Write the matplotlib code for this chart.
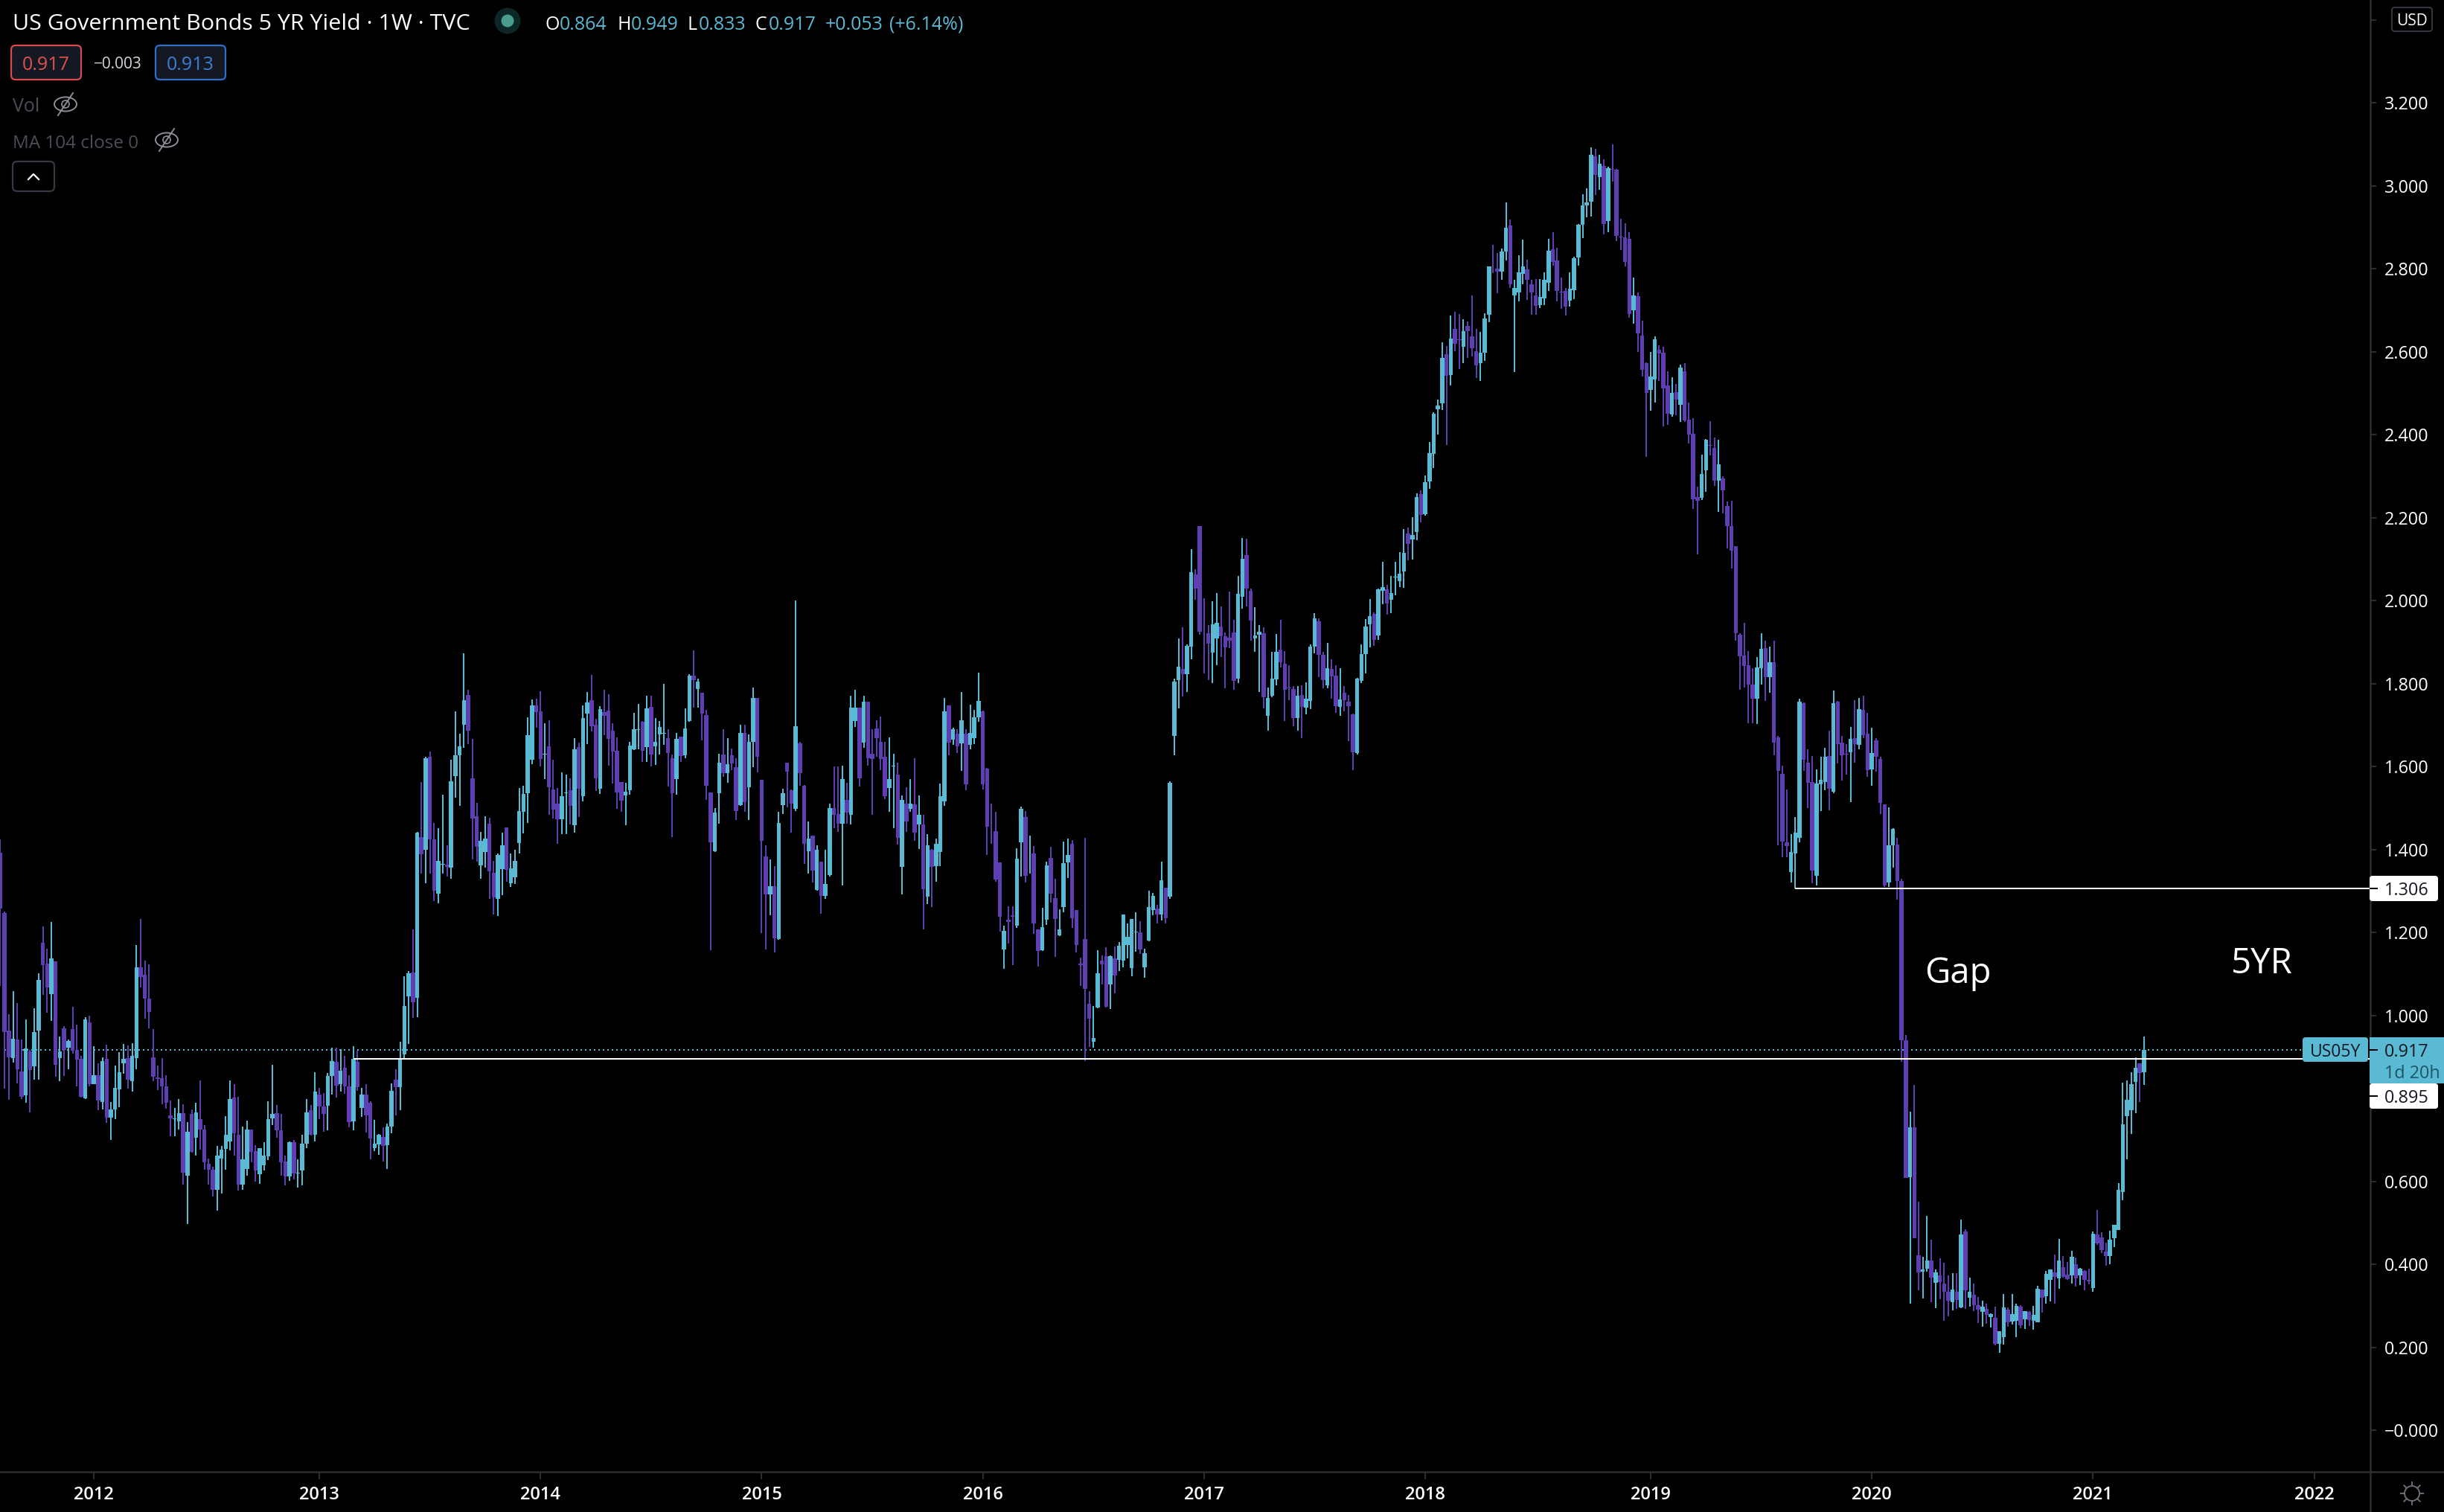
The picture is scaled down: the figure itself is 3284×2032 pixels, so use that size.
import numpy as np
import matplotlib
matplotlib.use('Agg')
import matplotlib.pyplot as plt
from matplotlib.patches import FancyBboxPatch, Circle, Ellipse

plt.rcParams['font.family'] = ['Open Sans', 'DejaVu Sans']

# weekly bars, (open, high, low, close)
bars_2011 = [
    (1.392, 1.425, 1.072, 1.257), (1.248, 1.251, 0.823, 0.961), (0.964, 1.003, 0.797, 0.900), (0.898, 1.059, 0.886, 0.944),
    (0.943, 1.030, 0.837, 0.870), (0.866, 0.943, 0.799, 0.805), (0.807, 0.991, 0.790, 0.921), (0.914, 0.918, 0.766, 0.868),
    (0.877, 1.018, 0.845, 0.960), (0.963, 1.101, 0.845, 1.086), (1.175, 1.214, 1.049, 1.122), (1.125, 1.161, 1.006, 1.067),
    (1.051, 1.226, 0.987, 1.138), (1.131, 1.131, 0.852, 0.882), (0.898, 0.950, 0.841, 0.914), (0.969, 0.975, 0.855, 0.917),
    (0.923, 0.943, 0.870, 0.939), (0.968, 1.022, 0.909, 0.916), (0.917, 0.978, 0.830, 0.894), (0.895, 0.902, 0.802, 0.805),
    (0.801, 0.996, 0.799, 0.990), (0.984, 1.000, 0.830, 0.835),
]
bars_2012 = [
    (0.834, 0.927, 0.834, 0.857), (0.857, 0.884, 0.771, 0.795), (0.791, 0.900, 0.774, 0.891), (0.895, 0.930, 0.742, 0.754),
    (0.754, 0.792, 0.701, 0.774), (0.774, 0.880, 0.750, 0.825), (0.822, 0.912, 0.779, 0.864), (0.884, 0.932, 0.859, 0.896),
    (0.898, 0.928, 0.823, 0.845), (0.841, 0.934, 0.817, 0.903), (0.898, 1.170, 0.871, 1.117), (1.117, 1.233, 1.067, 1.092),
    (1.099, 1.133, 0.992, 1.040), (1.041, 1.124, 0.970, 1.008), (0.900, 0.968, 0.841, 0.852), (0.851, 0.880, 0.820, 0.848),
    (0.849, 0.898, 0.786, 0.829), (0.830, 0.857, 0.775, 0.790), (0.759, 0.796, 0.709, 0.753), (0.750, 0.777, 0.709, 0.751),
    (0.745, 0.798, 0.725, 0.765), (0.765, 0.787, 0.592, 0.622), (0.614, 0.744, 0.497, 0.719), (0.763, 0.774, 0.670, 0.672),
    (0.705, 0.789, 0.662, 0.767), (0.751, 0.844, 0.676, 0.725), (0.726, 0.736, 0.629, 0.647), (0.642, 0.655, 0.592, 0.628),
    (0.629, 0.635, 0.564, 0.580), (0.580, 0.685, 0.530, 0.662), (0.655, 0.685, 0.571, 0.676), (0.678, 0.758, 0.628, 0.713),
    (0.696, 0.844, 0.675, 0.799), (0.803, 0.834, 0.662, 0.717), (0.713, 0.805, 0.578, 0.592), (0.593, 0.732, 0.580, 0.653),
    (0.631, 0.747, 0.614, 0.726), (0.726, 0.726, 0.647, 0.671), (0.673, 0.687, 0.600, 0.626), (0.617, 0.681, 0.595, 0.680),
    (0.640, 0.694, 0.626, 0.663), (0.660, 0.794, 0.651, 0.751), (0.752, 0.882, 0.736, 0.763), (0.765, 0.785, 0.706, 0.723),
    (0.724, 0.763, 0.614, 0.646), (0.649, 0.663, 0.590, 0.612), (0.612, 0.697, 0.601, 0.694), (0.695, 0.701, 0.605, 0.619),
    (0.620, 0.653, 0.585, 0.621), (0.626, 0.713, 0.590, 0.692), (0.692, 0.799, 0.681, 0.767), (0.771, 0.785, 0.711, 0.713),
]
bars_2013 = [
    (0.712, 0.864, 0.697, 0.817), (0.810, 0.825, 0.751, 0.780), (0.781, 0.814, 0.720, 0.763), (0.782, 0.861, 0.723, 0.855),
    (0.855, 0.923, 0.810, 0.891), (0.889, 0.923, 0.803, 0.831), (0.835, 0.919, 0.817, 0.867), (0.875, 0.903, 0.812, 0.830),
    (0.830, 0.857, 0.731, 0.744), (0.745, 0.927, 0.723, 0.896), (0.889, 0.915, 0.818, 0.828), (0.778, 0.825, 0.756, 0.810),
    (0.810, 0.835, 0.718, 0.760), (0.789, 0.793, 0.653, 0.703), (0.680, 0.749, 0.674, 0.692), (0.690, 0.715, 0.665, 0.713),
    (0.708, 0.731, 0.649, 0.685), (0.687, 0.740, 0.631, 0.733), (0.732, 0.837, 0.716, 0.819), (0.846, 0.871, 0.759, 0.828),
    (0.828, 0.936, 0.772, 0.896), (0.907, 1.095, 0.898, 1.023), (1.047, 1.108, 0.932, 1.101), (1.103, 1.208, 0.994, 1.032),
    (1.043, 1.442, 0.996, 1.440), (1.430, 1.563, 1.342, 1.389), (1.400, 1.623, 1.319, 1.620), (1.624, 1.636, 1.342, 1.425),
    (1.425, 1.464, 1.276, 1.301), (1.294, 1.452, 1.271, 1.373), (1.364, 1.532, 1.342, 1.365), (1.364, 1.410, 1.335, 1.358),
    (1.357, 1.617, 1.330, 1.565), (1.577, 1.733, 1.525, 1.627), (1.627, 1.679, 1.505, 1.649), (1.701, 1.873, 1.645, 1.760),
    (1.773, 1.785, 1.654, 1.687), (1.572, 1.667, 1.376, 1.475), (1.480, 1.513, 1.371, 1.407), (1.362, 1.443, 1.330, 1.421),
    (1.394, 1.480, 1.357, 1.427), (1.462, 1.477, 1.281, 1.348), (1.344, 1.373, 1.244, 1.285), (1.281, 1.391, 1.240, 1.387),
    (1.353, 1.441, 1.290, 1.410), (1.453, 1.453, 1.322, 1.351), (1.319, 1.391, 1.310, 1.355), (1.333, 1.400, 1.317, 1.373),
    (1.416, 1.548, 1.391, 1.493), (1.491, 1.554, 1.439, 1.534), (1.536, 1.719, 1.464, 1.676), (1.617, 1.762, 1.606, 1.748),
]
bars_2014 = [
    (1.748, 1.764, 1.694, 1.731), (1.733, 1.782, 1.600, 1.618), (1.630, 1.705, 1.570, 1.631), (1.649, 1.712, 1.484, 1.550),
    (1.545, 1.617, 1.475, 1.496), (1.511, 1.548, 1.414, 1.473), (1.473, 1.586, 1.437, 1.529), (1.536, 1.581, 1.437, 1.537),
    (1.543, 1.572, 1.461, 1.505), (1.459, 1.669, 1.441, 1.642), (1.647, 1.658, 1.479, 1.547), (1.529, 1.748, 1.516, 1.717),
    (1.728, 1.780, 1.654, 1.755), (1.760, 1.821, 1.685, 1.697), (1.701, 1.715, 1.541, 1.572), (1.547, 1.746, 1.534, 1.739),
    (1.731, 1.785, 1.676, 1.723), (1.735, 1.775, 1.602, 1.667), (1.687, 1.704, 1.559, 1.636), (1.638, 1.670, 1.498, 1.538),
    (1.563, 1.563, 1.491, 1.518), (1.531, 1.561, 1.459, 1.540), (1.543, 1.660, 1.532, 1.651), (1.642, 1.730, 1.640, 1.690),
    (1.689, 1.751, 1.642, 1.690), (1.708, 1.710, 1.611, 1.638), (1.647, 1.771, 1.611, 1.740), (1.744, 1.771, 1.600, 1.629),
    (1.649, 1.717, 1.604, 1.660), (1.678, 1.710, 1.629, 1.696), (1.680, 1.800, 1.653, 1.681), (1.669, 1.690, 1.552, 1.633),
    (1.620, 1.629, 1.430, 1.536), (1.570, 1.681, 1.532, 1.667), (1.672, 1.672, 1.611, 1.626), (1.627, 1.740, 1.620, 1.692),
    (1.710, 1.823, 1.708, 1.819), (1.819, 1.880, 1.742, 1.809), (1.787, 1.812, 1.742, 1.805), (1.778, 1.778, 1.663, 1.728),
    (1.724, 1.737, 1.520, 1.554), (1.538, 1.538, 1.157, 1.417), (1.396, 1.500, 1.394, 1.489), (1.536, 1.631, 1.462, 1.609),
    (1.629, 1.690, 1.575, 1.584), (1.584, 1.669, 1.561, 1.606), (1.627, 1.644, 1.592, 1.608), (1.599, 1.620, 1.471, 1.493),
    (1.507, 1.701, 1.505, 1.681), (1.681, 1.701, 1.491, 1.514), (1.550, 1.678, 1.471, 1.660), (1.660, 1.791, 1.599, 1.766),
]
bars_2015 = [
    (1.766, 1.766, 1.586, 1.624), (1.568, 1.568, 1.199, 1.421), (1.383, 1.410, 1.159, 1.292), (1.292, 1.376, 1.242, 1.312),
    (1.312, 1.360, 1.152, 1.186), (1.184, 1.491, 1.182, 1.464), (1.507, 1.547, 1.486, 1.536), (1.609, 1.609, 1.502, 1.588),
    (1.543, 1.545, 1.441, 1.511), (1.498, 2.000, 1.493, 1.697), (1.656, 1.660, 1.554, 1.584), (1.554, 1.556, 1.365, 1.414),
    (1.396, 1.468, 1.342, 1.426), (1.434, 1.434, 1.320, 1.349), (1.303, 1.410, 1.301, 1.399), (1.371, 1.371, 1.245, 1.288),
    (1.288, 1.399, 1.281, 1.317), (1.338, 1.511, 1.335, 1.500), (1.500, 1.600, 1.451, 1.484), (1.486, 1.600, 1.443, 1.462),
    (1.462, 1.602, 1.313, 1.570), (1.520, 1.561, 1.462, 1.489), (1.484, 1.771, 1.460, 1.742), (1.710, 1.785, 1.695, 1.742),
    (1.742, 1.742, 1.552, 1.572), (1.658, 1.771, 1.645, 1.756), (1.756, 1.756, 1.602, 1.620), (1.631, 1.690, 1.484, 1.618),
    (1.692, 1.712, 1.624, 1.669), (1.660, 1.721, 1.591, 1.618), (1.624, 1.660, 1.521, 1.529), (1.548, 1.670, 1.491, 1.570),
    (1.600, 1.631, 1.451, 1.601), (1.581, 1.609, 1.412, 1.428), (1.358, 1.530, 1.292, 1.520), (1.511, 1.550, 1.443, 1.468),
    (1.498, 1.570, 1.491, 1.511), (1.509, 1.620, 1.421, 1.441), (1.460, 1.530, 1.401, 1.484), (1.460, 1.484, 1.208, 1.304),
    (1.286, 1.437, 1.268, 1.410), (1.399, 1.401, 1.261, 1.358), (1.360, 1.426, 1.322, 1.414), (1.394, 1.559, 1.360, 1.529),
    (1.516, 1.765, 1.505, 1.733), (1.747, 1.747, 1.627, 1.658), (1.665, 1.694, 1.652, 1.690), (1.679, 1.690, 1.633, 1.649),
    (1.656, 1.780, 1.590, 1.712), (1.679, 1.690, 1.543, 1.557), (1.652, 1.749, 1.642, 1.681), (1.669, 1.737, 1.654, 1.719),
    (1.719, 1.826, 1.708, 1.758),
]
bars_2016 = [
    (1.733, 1.735, 1.545, 1.557), (1.595, 1.597, 1.387, 1.455), (1.484, 1.511, 1.414, 1.483), (1.444, 1.491, 1.322, 1.328),
    (1.369, 1.369, 1.203, 1.238), (1.159, 1.217, 1.113, 1.204), (1.231, 1.263, 1.174, 1.225), (1.242, 1.263, 1.122, 1.238),
    (1.217, 1.403, 1.211, 1.378), (1.417, 1.504, 1.335, 1.498), (1.478, 1.493, 1.320, 1.337), (1.381, 1.434, 1.342, 1.382),
    (1.390, 1.408, 1.197, 1.222), (1.208, 1.208, 1.118, 1.156), (1.158, 1.260, 1.156, 1.213), (1.231, 1.371, 1.218, 1.362),
    (1.380, 1.407, 1.272, 1.294), (1.283, 1.330, 1.141, 1.233), (1.193, 1.256, 1.191, 1.207), (1.261, 1.419, 1.249, 1.367),
    (1.369, 1.426, 1.331, 1.387), (1.414, 1.423, 1.211, 1.234), (1.254, 1.254, 1.152, 1.170), (1.125, 1.140, 1.071, 1.122),
    (1.184, 1.428, 0.890, 1.064), (1.028, 1.059, 0.924, 0.992), (0.937, 1.023, 0.922, 0.946), (1.019, 1.158, 1.018, 1.102),
    (1.132, 1.145, 1.075, 1.123), (1.143, 1.165, 1.019, 1.021), (1.075, 1.145, 1.016, 1.143), (1.138, 1.166, 1.053, 1.096),
    (1.134, 1.177, 1.107, 1.168), (1.132, 1.244, 1.116, 1.244), (1.170, 1.222, 1.138, 1.190), (1.114, 1.233, 1.095, 1.233),
    (1.200, 1.249, 1.154, 1.201), (1.201, 1.228, 1.149, 1.159), (1.116, 1.161, 1.091, 1.150), (1.181, 1.301, 1.179, 1.262),
    (1.254, 1.296, 1.242, 1.289), (1.258, 1.267, 1.222, 1.244), (1.244, 1.371, 1.229, 1.326), (1.308, 1.308, 1.222, 1.235),
    (1.287, 1.565, 1.281, 1.561), (1.674, 1.812, 1.627, 1.805), (1.808, 1.909, 1.740, 1.841), (1.835, 1.936, 1.769, 1.823),
    (1.823, 1.895, 1.780, 1.891), (1.889, 2.124, 1.859, 2.069), (2.063, 2.076, 2.002, 2.029), (2.180, 2.180, 1.918, 1.925),
]
bars_2017 = [
    (1.927, 2.006, 1.825, 1.926), (1.921, 1.941, 1.808, 1.896), (1.875, 1.999, 1.801, 1.943), (1.909, 2.018, 1.844, 1.947),
    (1.938, 1.986, 1.864, 1.914), (1.914, 1.923, 1.789, 1.887), (1.911, 2.022, 1.886, 1.903), (1.923, 1.954, 1.785, 1.807),
    (1.812, 2.060, 1.801, 2.016), (2.009, 2.151, 1.981, 2.101), (2.110, 2.149, 1.986, 2.029), (2.024, 2.029, 1.903, 1.952),
    (1.909, 1.984, 1.877, 1.916), (1.918, 1.941, 1.780, 1.925), (1.921, 1.936, 1.740, 1.767), (1.722, 1.790, 1.686, 1.765),
    (1.771, 1.877, 1.767, 1.812), (1.810, 1.920, 1.796, 1.877), (1.882, 1.954, 1.839, 1.851), (1.848, 1.878, 1.710, 1.785),
    (1.790, 1.844, 1.760, 1.788), (1.787, 1.794, 1.697, 1.717), (1.717, 1.794, 1.686, 1.771), (1.772, 1.796, 1.668, 1.744),
    (1.742, 1.803, 1.726, 1.763), (1.758, 1.895, 1.738, 1.889), (1.889, 1.970, 1.873, 1.957), (1.950, 1.957, 1.816, 1.869),
    (1.869, 1.877, 1.789, 1.808), (1.796, 1.898, 1.789, 1.837), (1.835, 1.859, 1.764, 1.817), (1.819, 1.844, 1.729, 1.746),
    (1.744, 1.837, 1.722, 1.762), (1.778, 1.794, 1.733, 1.760), (1.756, 1.772, 1.661, 1.746), (1.726, 1.728, 1.591, 1.634),
    (1.633, 1.814, 1.629, 1.812), (1.807, 1.895, 1.801, 1.871), (1.871, 1.955, 1.825, 1.938), (1.943, 2.004, 1.887, 1.963),
    (1.968, 1.972, 1.891, 1.905), (1.916, 2.029, 1.905, 2.027), (2.024, 2.094, 1.991, 2.033), (2.027, 2.038, 1.966, 1.993),
    (2.002, 2.060, 1.970, 2.018), (2.056, 2.094, 2.013, 2.057), (2.047, 2.117, 2.033, 2.065), (2.070, 2.173, 2.031, 2.115),
    (2.162, 2.176, 2.097, 2.137), (2.147, 2.201, 2.099, 2.158), (2.165, 2.259, 2.146, 2.250), (2.257, 2.266, 2.189, 2.207),
]
bars_2018 = [
    (2.208, 2.301, 2.205, 2.285), (2.287, 2.382, 2.269, 2.355), (2.353, 2.454, 2.319, 2.450), (2.461, 2.484, 2.400, 2.470),
    (2.475, 2.622, 2.459, 2.585), (2.594, 2.614, 2.375, 2.542), (2.544, 2.687, 2.518, 2.631), (2.655, 2.696, 2.601, 2.619),
    (2.630, 2.691, 2.558, 2.628), (2.612, 2.678, 2.572, 2.649), (2.662, 2.673, 2.585, 2.649), (2.637, 2.735, 2.588, 2.608),
    (2.601, 2.655, 2.536, 2.567), (2.572, 2.648, 2.529, 2.597), (2.597, 2.692, 2.578, 2.680), (2.689, 2.805, 2.671, 2.805),
    (2.804, 2.858, 2.789, 2.803), (2.800, 2.838, 2.741, 2.793), (2.793, 2.849, 2.773, 2.841), (2.841, 2.960, 2.820, 2.899),
    (2.904, 2.919, 2.753, 2.762), (2.736, 2.773, 2.551, 2.753), (2.743, 2.832, 2.721, 2.791), (2.788, 2.870, 2.762, 2.805),
    (2.798, 2.822, 2.725, 2.773), (2.762, 2.773, 2.689, 2.743), (2.736, 2.775, 2.689, 2.710), (2.712, 2.775, 2.705, 2.732),
    (2.728, 2.791, 2.712, 2.773), (2.766, 2.872, 2.746, 2.843), (2.847, 2.888, 2.807, 2.816), (2.820, 2.850, 2.721, 2.746),
    (2.745, 2.779, 2.703, 2.743), (2.746, 2.753, 2.687, 2.709), (2.723, 2.791, 2.709, 2.752), (2.748, 2.829, 2.727, 2.825),
    (2.827, 2.908, 2.807, 2.906), (2.906, 2.980, 2.874, 2.953), (2.953, 2.994, 2.924, 2.960), (2.962, 3.092, 2.926, 3.075),
    (3.071, 3.089, 2.978, 3.026), (3.021, 3.075, 2.990, 3.053), (3.048, 3.064, 2.883, 2.908), (2.915, 3.046, 2.888, 3.042),
    (3.041, 3.100, 3.010, 3.039), (3.039, 3.040, 2.866, 2.879), (2.878, 2.920, 2.845, 2.876), (2.875, 2.909, 2.805, 2.816),
    (2.872, 2.888, 2.682, 2.691), (2.700, 2.779, 2.667, 2.735), (2.734, 2.743, 2.599, 2.644), (2.639, 2.675, 2.540, 2.556),
    (2.572, 2.574, 2.346, 2.501),
]
bars_2019 = [
    (2.508, 2.599, 2.457, 2.540), (2.533, 2.637, 2.477, 2.630), (2.605, 2.615, 2.529, 2.596), (2.597, 2.612, 2.420, 2.511),
    (2.518, 2.553, 2.424, 2.451), (2.449, 2.539, 2.443, 2.501), (2.503, 2.522, 2.447, 2.485), (2.472, 2.568, 2.431, 2.562),
    (2.553, 2.573, 2.431, 2.435), (2.437, 2.478, 2.379, 2.400), (2.402, 2.440, 2.221, 2.245), (2.250, 2.274, 2.112, 2.240),
    (2.248, 2.352, 2.243, 2.306), (2.315, 2.390, 2.262, 2.387), (2.375, 2.433, 2.350, 2.373), (2.368, 2.393, 2.277, 2.289),
    (2.289, 2.388, 2.213, 2.329), (2.294, 2.300, 2.210, 2.266), (2.229, 2.238, 2.125, 2.180), (2.180, 2.241, 2.078, 2.121),
    (2.132, 2.132, 1.903, 1.922), (1.917, 1.922, 1.786, 1.866), (1.868, 1.947, 1.791, 1.843), (1.845, 1.879, 1.705, 1.797),
    (1.798, 1.837, 1.705, 1.764), (1.764, 1.864, 1.703, 1.839), (1.838, 1.922, 1.798, 1.884), (1.886, 1.904, 1.758, 1.816),
    (1.816, 1.889, 1.778, 1.852), (1.852, 1.904, 1.628, 1.657), (1.671, 1.674, 1.411, 1.590), (1.583, 1.603, 1.382, 1.420),
    (1.418, 1.545, 1.381, 1.408), (1.346, 1.438, 1.321, 1.395), (1.391, 1.479, 1.307, 1.441), (1.429, 1.763, 1.417, 1.757),
    (1.753, 1.755, 1.590, 1.616), (1.610, 1.642, 1.500, 1.561), (1.563, 1.626, 1.318, 1.350), (1.337, 1.594, 1.314, 1.559),
    (1.558, 1.624, 1.493, 1.569), (1.563, 1.646, 1.543, 1.623), (1.626, 1.687, 1.495, 1.547), (1.540, 1.784, 1.536, 1.753),
    (1.757, 1.758, 1.608, 1.655), (1.658, 1.674, 1.566, 1.628), (1.631, 1.655, 1.581, 1.630), (1.635, 1.696, 1.514, 1.667),
    (1.669, 1.760, 1.610, 1.655), (1.653, 1.766, 1.641, 1.739), (1.737, 1.771, 1.669, 1.676), (1.680, 1.730, 1.576, 1.592),
]
bars_2020 = [
    (1.594, 1.694, 1.554, 1.632), (1.664, 1.669, 1.588, 1.623), (1.619, 1.624, 1.486, 1.513), (1.509, 1.509, 1.309, 1.314),
    (1.321, 1.502, 1.309, 1.411), (1.410, 1.452, 1.357, 1.449), (1.413, 1.429, 1.279, 1.324), (1.325, 1.330, 0.889, 0.940),
    (0.941, 0.953, 0.608, 0.608), (0.611, 0.769, 0.305, 0.731), (0.731, 0.833, 0.463, 0.464), (0.422, 0.551, 0.338, 0.381),
    (0.383, 0.419, 0.318, 0.388), (0.390, 0.517, 0.383, 0.410), (0.410, 0.460, 0.309, 0.369), (0.356, 0.388, 0.295, 0.381),
    (0.374, 0.415, 0.316, 0.358), (0.354, 0.404, 0.264, 0.334), (0.334, 0.374, 0.275, 0.313), (0.309, 0.379, 0.290, 0.340),
    (0.334, 0.379, 0.293, 0.315), (0.297, 0.509, 0.295, 0.473), (0.480, 0.485, 0.293, 0.338), (0.320, 0.369, 0.299, 0.334),
    (0.327, 0.354, 0.288, 0.302), (0.302, 0.322, 0.259, 0.291), (0.286, 0.313, 0.250, 0.299), (0.293, 0.306, 0.257, 0.279),
    (0.273, 0.282, 0.248, 0.281), (0.272, 0.299, 0.205, 0.209), (0.209, 0.239, 0.187, 0.239), (0.225, 0.329, 0.207, 0.297),
    (0.291, 0.297, 0.250, 0.261), (0.263, 0.329, 0.255, 0.281), (0.264, 0.306, 0.225, 0.300), (0.299, 0.302, 0.247, 0.254),
    (0.268, 0.288, 0.245, 0.288), (0.286, 0.288, 0.252, 0.266), (0.264, 0.300, 0.243, 0.279), (0.261, 0.349, 0.261, 0.342),
    (0.340, 0.340, 0.284, 0.320), (0.324, 0.385, 0.306, 0.377), (0.363, 0.388, 0.311, 0.388), (0.381, 0.424, 0.306, 0.370),
    (0.367, 0.462, 0.342, 0.410), (0.394, 0.420, 0.369, 0.370), (0.375, 0.406, 0.363, 0.365), (0.374, 0.433, 0.354, 0.419),
    (0.401, 0.417, 0.347, 0.367), (0.374, 0.392, 0.351, 0.390), (0.385, 0.386, 0.338, 0.363), (0.363, 0.390, 0.352, 0.359),
]
bars_2021 = [
    (0.343, 0.480, 0.334, 0.474), (0.473, 0.532, 0.447, 0.451), (0.465, 0.478, 0.428, 0.435), (0.431, 0.453, 0.397, 0.420),
    (0.420, 0.482, 0.401, 0.460), (0.464, 0.496, 0.442, 0.496), (0.483, 0.596, 0.483, 0.580), (0.575, 0.838, 0.555, 0.738),
    (0.758, 0.844, 0.654, 0.797), (0.772, 0.864, 0.715, 0.835), (0.840, 0.900, 0.765, 0.874), (0.885, 0.885, 0.792, 0.862),
    (0.864, 0.949, 0.833, 0.917),
]

level_gap_top = 1.306
level_gap_bottom = 0.895
last_close = 0.917
gap_top_start = 422      # bar where the 1.306 line starts
gap_bottom_start = 83    # bar where the 0.895 line starts

year_labels = ['2012', '2013', '2014', '2015', '2016', '2017', '2018', '2019', '2020', '2021', '2022']
year_bars = [22, 75, 127, 179, 231, 283, 335, 388, 440, 492, 544]
price_ticks = [0.0, 0.2, 0.4, 0.6, 0.8, 1.0, 1.2, 1.4, 1.6, 1.8, 2.0, 2.2, 2.4, 2.6, 2.8, 3.0, 3.2, 3.4]

CYAN = '#5ab9d3'
PURPLE = '#5e3fb2'
AXIS = '#2e2e32'
WIDTH, HEIGHT = 3284, 2032
PANE_R, PANE_B = 3185, 1978

all_bars = (bars_2011 + bars_2012 + bars_2013 + bars_2014 + bars_2015 + bars_2016
            + bars_2017 + bars_2018 + bars_2019 + bars_2020 + bars_2021)
opens, highs, lows, closes = np.array(all_bars).T
x = np.arange(len(opens))
cols = [CYAN if c >= o else PURPLE for o, c in zip(opens, closes)]

fig = plt.figure(figsize=(WIDTH / 100, HEIGHT / 100), dpi=100, facecolor='black')
ax = fig.add_axes([0, (HEIGHT - PANE_B) / HEIGHT, PANE_R / WIDTH, PANE_B / HEIGHT], facecolor='black')

# candles
ax.hlines(last_close, 1, PANE_R, colors=CYAN, lw=1.44, linestyles=(0, (1, 2)), zorder=1)
ax.vlines(x, lows, highs, colors=cols, lw=1.44, zorder=2)
ax.bar(x, np.maximum(np.abs(closes - opens), 0.0015), bottom=np.minimum(opens, closes),
       width=0.96, color=cols, linewidth=0, zorder=3)
ax.hlines(level_gap_top, gap_top_start, 1000, colors='white', lw=1.44, zorder=4)
ax.hlines(level_gap_bottom, gap_bottom_start, 1000, colors='white', lw=1.44, zorder=4)

ax.set_xlim(-0.07, 557.2)
ax.set_ylim(-0.0997, 3.4476)
for s in ax.spines.values():
    s.set_visible(False)

ax.yaxis.tick_right()
ax.set_yticks(price_ticks)
ax.set_yticklabels(['\u22120.000'] + ['%.3f' % p for p in price_ticks[1:-1]] + [''])
ax.tick_params(axis='y', length=5.76, width=1.44, color=AXIS, labelcolor='white', labelsize=16.8, pad=8)
ax.set_xticks(year_bars)
ax.set_xticklabels(year_labels, fontweight='semibold')
ax.tick_params(axis='x', length=7, width=1.44, color=AXIS, labelcolor='white', labelsize=17, pad=7)

# everything else is screen furniture, placed in screen pixels
ui = fig.add_axes([0, 0, 1, 1], zorder=10)
ui.set_xlim(0, WIDTH)
ui.set_ylim(HEIGHT, 0)
ui.axis('off')
ui.patch.set_alpha(0)

ui.plot([PANE_R, PANE_R], [0, HEIGHT], color=AXIS, lw=1.8, zorder=1)
ui.plot([0, WIDTH], [PANE_B, PANE_B], color=AXIS, lw=1.8, zorder=1)


def rbox(x0, y0, x1, y1, fc, ec='none', lw=0, r=4):
    ui.add_patch(FancyBboxPatch((x0, y0), x1 - x0, y1 - y0, boxstyle='round,pad=0,rounding_size=%d' % r,
                                fc=fc, ec=ec, lw=lw, zorder=3))


def label(px, py, s, color='white', size=18, ha='left', **kw):
    ui.text(px, py, s, color=color, fontsize=size, ha=ha, va='center_baseline', zorder=5, **kw)


def hidden_eye(cx, cy):
    ui.add_patch(Ellipse((cx, cy), 30, 19, fc='none', ec='#8d9099', lw=1.4, zorder=4))
    ui.add_patch(Circle((cx, cy), 5, fc='none', ec='#8d9099', lw=1.2, zorder=4))
    ui.plot([cx + 10, cx - 10], [cy - 15, cy + 15], color='#8d9099', lw=1.4, zorder=4)


# header
label(17, 29, 'US Government Bonds 5 YR Yield \u00b7 1W \u00b7 TVC', size=21.9)
ui.add_patch(Circle((682, 28), 17.5, fc='#0d2626', ec='none', zorder=4))
ui.add_patch(Circle((682, 28), 8.5, fc='#4c9c8d', ec='none', zorder=5))
for px, s, c in [(732, 'O', 'white'), (752, '0.864', CYAN), (829, 'H', 'white'), (848, '0.949', CYAN),
                 (923, 'L', 'white'), (939, '0.833', CYAN), (1014, 'C', 'white'), (1033, '0.917', CYAN),
                 (1109, '+0.053', CYAN), (1195, '(+6.14%)', CYAN)]:
    label(px, 30, s, color=c, size=18)

rbox(15, 61, 109, 107, '#141823', '#d94b4b', 1.6, r=6)
label(62, 84, '0.917', color='#e0504f', size=18, ha='center')
label(158, 84, '\u22120.003', color='#d1d4dc', size=15, ha='center')
rbox(209, 61, 303, 107, '#141823', '#2f6fc6', 1.6, r=6)
label(256, 84, '0.913', color='#3a7fd6', size=18, ha='center')

label(17, 141, 'Vol', color='#4a4e58', size=18)
hidden_eye(88, 140)
label(17, 190, 'MA 104 close 0', color='#4a4e58', size=17.5)
hidden_eye(224, 188)
rbox(17, 217, 73, 257, 'black', '#363a45', 1.6, r=6)
ui.plot([38, 45, 52], [241, 234, 241], color='white', lw=1.6, zorder=5)

# right hand price labels
rbox(3214, 10, 3268, 42, 'black', '#363a45', 1.4, r=4)
label(3241, 26, 'USD', size=15, ha='center')

rbox(PANE_R - 1, 1177, 3276, 1211, 'white')
ui.plot([PANE_R, PANE_R + 9], [1194, 1194], color='black', lw=1.44, zorder=4)
label(3204, 1194, '1.306', color='#131722', size=16.8)

rbox(PANE_R - 1, 1456, 3276, 1490, 'white')
ui.plot([PANE_R, PANE_R + 9], [1473, 1473], color='black', lw=1.44, zorder=4)
label(3204, 1473, '0.895', color='#131722', size=16.8)

rbox(3094, 1394, 3182, 1427, CYAN)
label(3138, 1411, 'US05Y', color='#131722', size=16.5, ha='center')
ui.add_patch(plt.Rectangle((PANE_R - 1, 1394), WIDTH - PANE_R + 1, 62, fc=CYAN, ec='none', zorder=3))
ui.plot([PANE_R, PANE_R + 9], [1411, 1411], color='black', lw=1.44, zorder=4)
label(3204, 1411, '0.917', color='#131722', size=16.8)
label(3204, 1440, '1d 20h', color='#1f5564', size=16.8)

# drawings on the chart
label(2586, 1303, 'Gap', size=34)
label(2998, 1290, '5YR', size=34)

# settings gear
ui.add_patch(Circle((3241, 2007), 10, fc='none', ec='#6a6d78', lw=1.4, zorder=4))
for a in np.deg2rad(np.arange(0, 360, 45)):
    ui.plot([3241 + 10 * np.cos(a), 3241 + 15 * np.cos(a)], [2007 + 10 * np.sin(a), 2007 + 15 * np.sin(a)],
            color='#6a6d78', lw=1.4, zorder=4)

fig.savefig('out.png', dpi=100, facecolor='black')
